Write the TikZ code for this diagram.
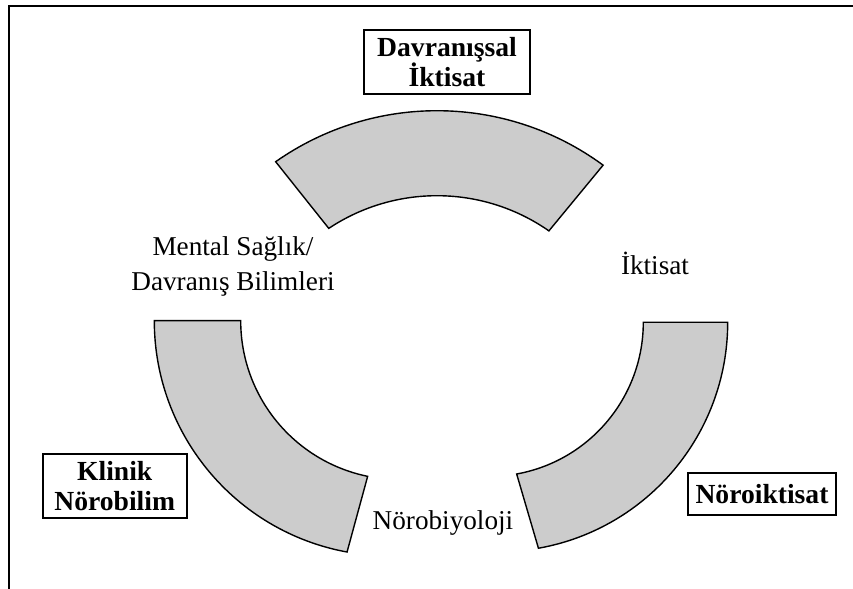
\documentclass[tikz,border=0pt]{standalone}
\usepackage{fontspec}
\setmainfont{Liberation Serif}
\usetikzlibrary{calc}
\begin{document}
\begin{tikzpicture}[x=0.5pt,y=0.5pt,
  band/.style={fill=black!20, draw=black, line width=0.7pt, line join=miter},
  field/.style={font=\fontsize{13.6}{17.5}\selectfont, align=center, inner sep=0pt},
  discipline/.style={draw=black, line width=0.8pt,
    font=\fontsize{13.8}{15}\selectfont\bfseries, align=center, inner sep=0pt}]
\useasboundingbox (0,0) rectangle (853,589);

% open frame: left and top rules
\draw[line width=1pt] (9,0) -- (9,583) -- (853,583);

% top band
\coordinate (ct) at (437,197.7);
\draw[band] ($(ct)+(125.1:280.6)$) arc[start angle=125.1, end angle=53.7, radius=280.6]
  -- ($(ct)+(55.1:195.6)$) arc[start angle=55.1, end angle=123.6, radius=195.6] -- cycle;

% right band
\coordinate (cro) at (498.2,266.7);
\coordinate (cri) at (489.1,266.7);
\draw[band] ($(cro)+(0:229.5)$) arc[start angle=0, end angle=-79.9, radius=229.5]
  -- ($(cri)+(-79.7:154.2)$) arc[start angle=-79.7, end angle=0, radius=154.2] -- cycle;

% left band
\coordinate (clo) at (389.5,268.3);
\coordinate (cli) at (399.6,268.3);
\draw[band] ($(clo)+(180:235.2)$) arc[start angle=180, end angle=259.6, radius=235.2]
  -- ($(cli)+(258.4:158.9)$) arc[start angle=258.4, end angle=180, radius=158.9] -- cycle;

% discipline boxes
\node[discipline, minimum width=83pt, minimum height=32pt] (davr) at (447,527) {Davranışsal\\İktisat};
\node[discipline, minimum width=72pt, minimum height=32pt] (klin) at (114.7,103) {Klinik\\Nörobilim};
\node[discipline, minimum width=74pt, minimum height=21pt] (noro) at (762,95) {Nöroiktisat};

% field labels
\node[field] (ment) at (233,323) {Mental Sağlık/\\Davranış Bilimleri};
\node[field, anchor=base] (ikt) at (655,314) {İktisat};
\node[field, anchor=base] (nbio) at (443,59) {Nörobiyoloji};
\end{tikzpicture}
\end{document}
